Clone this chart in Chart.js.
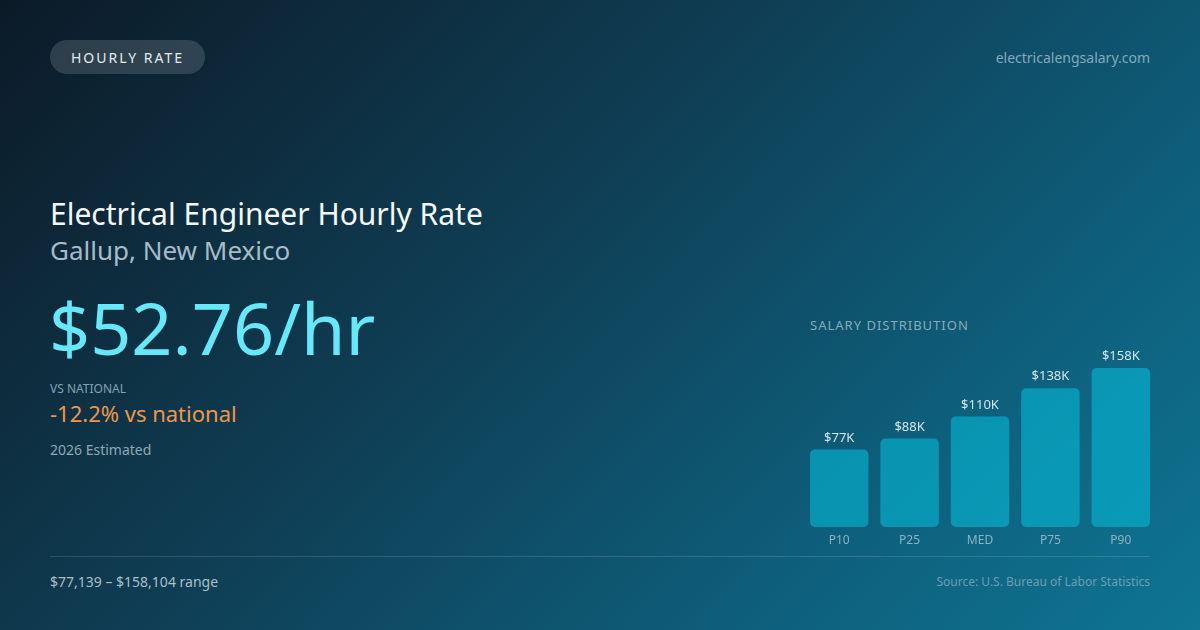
<!DOCTYPE html>
<html>
<head>
<meta charset="utf-8">
<script src="https://cdn.jsdelivr.net/npm/chart.js@4"></script>
<style>
    html, body { margin: 0; padding: 0; }
    body {
        width: 1200px;
        height: 630px;
        overflow: hidden;
        position: relative;
        font-family: "Noto Sans", "Open Sans", sans-serif;
        background: linear-gradient(135deg, #0c1a27 0%, #0f3c52 40%, #0e5f7c 75%, #0e7592 100%);
    }
    .pill {
        position: absolute; left: 50px; top: 40px; width: 155px; height: 34px;
        border-radius: 17px; background: rgba(255, 255, 255, 0.14);
        color: #e2ebef; font-size: 14px; letter-spacing: 2px;
        display: flex; align-items: center; justify-content: center;
    }
    .site { position: absolute; right: 50px; top: 48px; font-size: 14px; color: #82aabb; }
    .titre { position: absolute; left: 50px; top: 193px; font-size: 30px; color: #f4f8fa; }
    .lieu { position: absolute; left: 50px; top: 232px; font-size: 26px; color: #a6bcc8; }
    .taux { position: absolute; left: 49px; top: 284px; font-size: 72px; color: #67e8f9; line-height: 1.2; }
    .vs-label { position: absolute; left: 50px; top: 380px; font-size: 12px; color: #84a2b2; }
    .vs { position: absolute; left: 50px; top: 398px; font-size: 22px; color: #f0964a; }
    .annee { position: absolute; left: 50px; top: 440px; font-size: 14px; color: #8ea8b6; }
    .dist { position: absolute; left: 810px; top: 316px; font-size: 13px; letter-spacing: 1px; color: #88aab9; }
    .graph { position: absolute; left: 804px; top: 346px; width: 352px; height: 205px; }
    .ligne { position: absolute; left: 50px; top: 556px; width: 1100px; height: 1px; background: rgba(255, 255, 255, 0.14); }
    .range { position: absolute; left: 50px; top: 572px; font-size: 14px; color: #a9bfca; }
    .source { position: absolute; right: 50px; top: 573px; font-size: 12px; color: #6f9cb0; }
</style>
</head>
<body>
    <div class="pill">HOURLY RATE</div>
    <div class="site">electricalengsalary.com</div>
    <div class="titre">Electrical Engineer Hourly Rate</div>
    <div class="lieu">Gallup, New Mexico</div>
    <div class="taux">$52.76/hr</div>
    <div class="vs-label">VS NATIONAL</div>
    <div class="vs">-12.2% vs national</div>
    <div class="annee">2026 Estimated</div>
    <div class="dist">SALARY DISTRIBUTION</div>
    <div class="graph"><canvas id="graphique-salaires"></canvas></div>
    <div class="ligne"></div>
    <div class="range">$77,139 – $158,104 range</div>
    <div class="source">Source: U.S. Bureau of Labor Statistics</div>

<script>
// Les données du graphique (en milliers de dollars)
const percentiles = ["P10", "P25", "MED", "P75", "P90"]
const salairesK = [77, 88, 110, 138, 158]
const etiquettes = ["$77K", "$88K", "$110K", "$138K", "$158K"]

Chart.defaults.font.family = "'Noto Sans', 'Open Sans', sans-serif"

// Petit plugin pour écrire la valeur au dessus de chaque barre
const valeursAuDessus = {
    id: "valeursAuDessus",
    afterDatasetsDraw(chart) {
        const ctx = chart.ctx
        const barres = chart.getDatasetMeta(0).data
        ctx.save()
        ctx.font = "13px 'Noto Sans'"
        ctx.fillStyle = "#d3e4eb"
        ctx.textAlign = "center"
        ctx.textBaseline = "bottom"
        for (let i = 0; i < barres.length; i++) {
            ctx.fillText(etiquettes[i], barres[i].x, barres[i].y - 5)
        }
        ctx.restore()
    }
}

const data = {
    labels: percentiles,
    datasets: [{
        data: salairesK,
        backgroundColor: "rgba(6, 182, 212, 0.62)",
        borderRadius: 5,
        borderSkipped: false, //coins arrondis aussi en bas
        barPercentage: 0.83,
        categoryPercentage: 1
    }]
}

const config = {
    type: "bar",
    data: data,
    options: {
        responsive: true,
        maintainAspectRatio: false,
        animation: false,
        layout: { padding: 0 },
        plugins: { legend: { display: false }, tooltip: { enabled: false } },
        scales: {
            x: {
                grid: { display: false, drawTicks: false },
                border: { display: false },
                ticks: { color: "#8fb2c2", font: { size: 12 }, padding: 6 },
                afterFit: (scale) => { scale.height = 24 } //hauteur fixe pour caler le bas des barres
            },
            y: {
                display: false,
                min: 0,
                max: 180
            }
        }
    },
    plugins: [valeursAuDessus]
}

const graphiqueSalaires = new Chart(document.querySelector("#graphique-salaires"), config)
</script>
</body>
</html>
